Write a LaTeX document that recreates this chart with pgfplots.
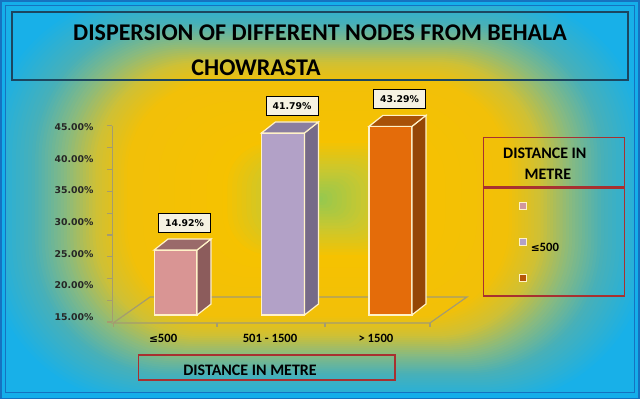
\documentclass[border=0pt]{standalone}
\usepackage{fontspec}
\setmainfont{Carlito}
\newfontfamily\dv{DejaVu Sans}
\usepackage{pgfplots}
\pgfplotsset{compat=1.18}
\definecolor{cframe}{HTML}{14AEEA}
\definecolor{cframedark}{HTML}{1672C0}
\definecolor{g0}{HTML}{18B0E8}
\definecolor{g1}{HTML}{48B0B8}
\definecolor{g2}{HTML}{88BA80}
\definecolor{g3}{HTML}{D0C034}
\definecolor{g4}{HTML}{F2C008}
\definecolor{g5}{HTML}{F6C200}
\definecolor{g6}{HTML}{C8C830}
\definecolor{g7}{HTML}{90C852}
\definecolor{ctitle}{HTML}{1C4660}
\definecolor{cred}{HTML}{A83030}
\definecolor{cfloor}{HTML}{A49C70}
\definecolor{cedge}{HTML}{FFF2C8}
\definecolor{cbox}{HTML}{F6F2E2}
\definecolor{aF}{HTML}{D99594}\definecolor{aS}{HTML}{8C5C5C}\definecolor{aT}{HTML}{9A6A6A}
\definecolor{bF}{HTML}{B2A1C7}\definecolor{bS}{HTML}{766A88}\definecolor{bT}{HTML}{8A7EA0}
\definecolor{cF}{HTML}{E46C0A}\definecolor{cS}{HTML}{944606}\definecolor{cT}{HTML}{A85208}
% one ring segment of the rounded-rectangle background gradient
\newcommand{\gseg}[5]{%
  \foreach \i in {0,...,#5}{%
    \pgfmathsetmacro\tt{#1-(#1-#2)*\i/#5}%
    \pgfmathsetmacro\pp{100*\i/#5}%
    \pgfmathsetmacro\rr{0.75*150*\tt+0.01}%
    \fill[#4!\pp!#3, rounded corners=\rr pt] ({318-318*\tt},{199-196*\tt}) rectangle ({318+318*\tt},{199+196*\tt});
  }}
\begin{document}
\begin{tikzpicture}
\begin{scope}[x=0.75pt,y=-0.75pt,yshift=299.25pt]
\fill[cframe] (0,0) rectangle (640,399);
\draw[cframedark,line width=1.2pt] (0.6,0.6) rectangle (639.4,398.4);
\fill[g0] (5,5) rectangle (635,393);
\begin{scope}
\clip (5,5) rectangle (635,393);
\gseg{1.05}{0.9}{g0}{g1}{12}
\gseg{0.9}{0.8}{g1}{g2}{10}
\gseg{0.8}{0.7}{g2}{g3}{10}
\gseg{0.7}{0.6}{g3}{g4}{10}
\gseg{0.6}{0.3}{g4}{g5}{6}
\gseg{0.3}{0.15}{g5}{g6}{10}
\gseg{0.15}{0.0}{g6}{g7}{10}
\end{scope}
\draw[cframedark,line width=0.8pt] (5,5) rectangle (635,393);
% title
\draw[ctitle,line width=1.5pt] (12,12) rectangle (628,80);
\node[font=\bfseries\fontsize{18}{20}\selectfont] at (320,33) {DISPERSION OF DIFFERENT NODES FROM BEHALA};
\node[font=\bfseries\fontsize{18}{20}\selectfont] at (256,68) {CHOWRASTA};
% floor
\draw[cfloor,line width=0.9pt] (113,323) -- (150,297) -- (467,297) -- (430,323) -- cycle;
\foreach \xx in {113,217,325,430} \draw[cfloor,line width=0.9pt] (\xx,323) -- (\xx,327);
% x labels
\node[font=\bfseries\fontsize{9.5}{11}\selectfont] at (163,338) {{\dv\fontsize{8}{9}\selectfont ≤}500};
\node[font=\bfseries\fontsize{9.5}{11}\selectfont] at (270,338) {501 - 1500};
\node[font=\bfseries\fontsize{9.5}{11}\selectfont] at (376,338) {> 1500};
% x title
\draw[cred,line width=0.9pt] (138,355) rectangle (395,380);
\node[font=\bfseries\fontsize{12}{14}\selectfont] at (250,370) {DISTANCE IN METRE};
% legend
\draw[cred,line width=0.9pt] (484,137) rectangle (625,187);
\draw[cred,line width=0.9pt] (484,188) rectangle (625,296);
\node[font=\bfseries\fontsize{12}{14}\selectfont] at (545,153) {DISTANCE IN};
\node[font=\bfseries\fontsize{12}{14}\selectfont] at (548,174) {METRE};
\draw[cedge,fill=aF!80!bF,line width=0.6pt] (519.5,202.5) rectangle (526.5,209.5);
\draw[cedge,fill=bF,line width=0.6pt] (519.5,238.5) rectangle (526.5,245.5);
\draw[cedge,fill=cF!80!black,line width=0.6pt] (519.5,274.5) rectangle (526.5,281.5);
\node[font=\bfseries\fontsize{9.5}{11}\selectfont] at (545,247) {{\dv\fontsize{8}{9}\selectfont ≤}500};
\end{scope}
% y tick axis
\begin{axis}[anchor=south west, at={(84pt,57.75pt)}, scale only axis,
  width=10pt, height=147.2pt, xmin=0, xmax=1, ymin=14.21, ymax=45.2,
  /pgf/number format/assume math mode=true,
  axis x line=none, axis y line=left, axis line style={cfloor,line width=0.9pt,-},
  ytick={15,20,25,30,35,40,45}, major tick length=0pt, tick align=outside,
  yticklabel={\pgfmathprintnumber[fixed,fixed zerofill,precision=2]{\tick}\%},
  yticklabel style={font=\dv\bfseries\fontsize{7}{8}\selectfont, text=black!85, xshift=-10.5pt},
  extra y ticks={45.2,41.75,38.3,34.85,31.4,27.95,24.5,21.05,17.6,14.21},
  extra y tick labels={},
  extra y tick style={major tick length=3.5pt, tick style={cfloor,line width=0.8pt}},
  clip=false]
\end{axis}
% bars axis
\begin{axis}[anchor=south west, at={(51pt,63pt)}, scale only axis,
  width=322.5pt, height=163.5pt, xmin=-1, xmax=3, ymin=0, ymax=50,
  /pgf/number format/assume math mode=true,
  hide axis, clip=false]
\addplot[fill=aF,draw=cedge,line width=0.9pt] coordinates {(-0.2,0) (0.2,0) (0.2,14.92) (-0.2,14.92)} -- cycle;
\addplot[fill=aS,draw=cedge,line width=0.9pt] coordinates {(0.2,0) (0.33,2.52) (0.33,17.44) (0.2,14.92)} -- cycle;
\addplot[fill=aT,draw=cedge,line width=0.9pt] coordinates {(-0.2,14.92) (-0.07,17.44) (0.33,17.44) (0.2,14.92)} -- cycle;
\addplot[fill=bF,draw=cedge,line width=0.9pt] coordinates {(0.8,0) (1.2,0) (1.2,41.79) (0.8,41.79)} -- cycle;
\addplot[fill=bS,draw=cedge,line width=0.9pt] coordinates {(1.2,0) (1.33,2.52) (1.33,44.31) (1.2,41.79)} -- cycle;
\addplot[fill=bT,draw=cedge,line width=0.9pt] coordinates {(0.8,41.79) (0.93,44.31) (1.33,44.31) (1.2,41.79)} -- cycle;
\addplot[fill=cF,draw=cedge,line width=0.9pt] coordinates {(1.8,0) (2.2,0) (2.2,43.29) (1.8,43.29)} -- cycle;
\addplot[fill=cS,draw=cedge,line width=0.9pt] coordinates {(2.2,0) (2.33,2.52) (2.33,45.81) (2.2,43.29)} -- cycle;
\addplot[fill=cT,draw=cedge,line width=0.9pt] coordinates {(1.8,43.29) (1.93,45.81) (2.33,45.81) (2.2,43.29)} -- cycle;
\addplot[draw=none, mark=none, point meta=explicit,
  nodes near coords={\pgfmathprintnumber[fixed,fixed zerofill,precision=2]{\pgfplotspointmeta}\%},
  nodes near coords style={anchor=south, yshift=4.5pt, draw=black, fill=cbox, line width=0.7pt,
    font=\dv\bfseries\fontsize{7}{8}\selectfont, minimum width=39pt, minimum height=14.5pt, inner sep=1pt}]
  coordinates {(0.084,17.44) [14.92] (1.084,44.31) [41.79] (2.084,45.81) [43.29]};
\end{axis}
\end{tikzpicture}
\end{document}
